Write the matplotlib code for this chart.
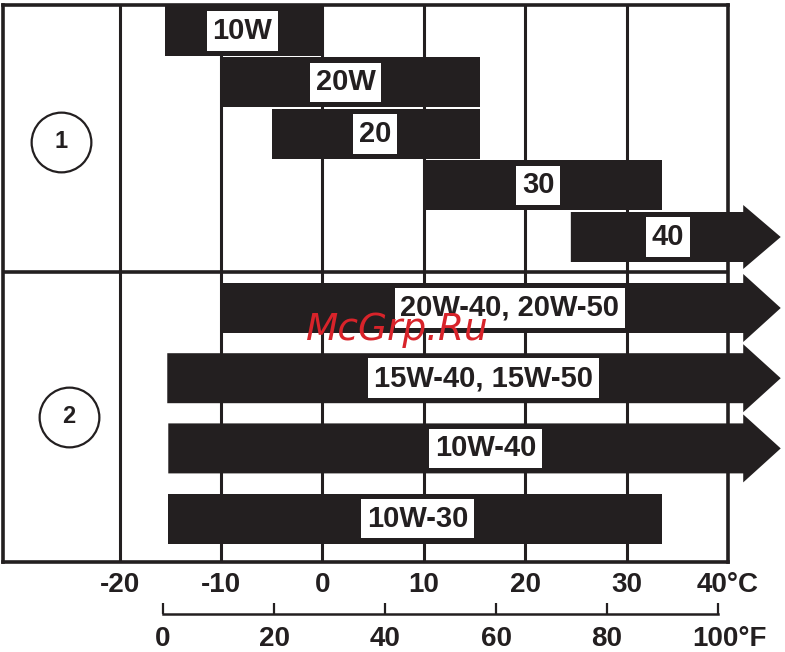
import matplotlib.pyplot as plt
import matplotlib.transforms as mtransforms
import numpy as np

# upper block: single grades, temperature range in deg C (None = open ended)
grades = ['10W', '20W', '20', '30', '40']
grade_lo = [-15.5, -10, -5, 10, 24.5]
grade_hi = [0, 15.5, 15.5, 33.5, None]

# lower block: multigrades
multi = ['20W-40, 20W-50', '15W-40, 15W-50', '10W-40', '10W-30']
multi_lo = [-10, -15.3, -15.2, -15.2]
multi_hi = [None, None, None, 33.5]

c_ticks = [-20, -10, 0, 10, 20, 30, 40]
c_labels = ['-20', '-10', '0', '10', '20', '30', '40°C']
f_ticks = [0, 20, 40, 60, 80, 100]
f_labels = ['0', '20', '40', '60', '80', '100°F']

BLACK = '#231f20'
W, H = 785, 652
ARROW_BASE = 41.5
ARROW_TIP = 45.2
bold = ['Liberation Sans', 'DejaVu Sans']

# where the white label boxes sit along each bar (deg C)
label_x1 = [-7.9, 2.3, 5.2, 21.3, 34.1]
label_x2 = [18.5, 15.9, 16.1, 9.4]


def bar(ax, lo, hi, yc, h=25, hh=33):
    if hi is None:
        xs = [lo, ARROW_BASE, ARROW_BASE, ARROW_TIP, ARROW_BASE, ARROW_BASE, lo]
        ys = [yc - h, yc - h, yc - hh, yc, yc + hh, yc + h, yc + h]
    else:
        xs = [lo, hi, hi, lo]
        ys = [yc - h, yc - h, yc + h, yc + h]
    ax.fill(xs, ys, color=BLACK, lw=0, zorder=2, clip_on=False)


def label(ax, x, yc, s):
    ax.text(x, yc, s, ha='center', va='center', fontsize=21, fontweight='bold',
            family=bold, color=BLACK, zorder=4,
            bbox=dict(boxstyle='square,pad=0.2', fc='white', ec='none'))


fig = plt.figure(figsize=(W / 100, H / 100), dpi=100)
ax = fig.add_axes([3 / W, (H - 562) / H, 725 / W, 557 / H])
ax.set_xlim(-31.5, 40)
ax.set_ylim(562, 5)
ax.set_yticks([])
for s in ax.spines.values():
    s.set_linewidth(2.6)
    s.set_color(BLACK)

for c in c_ticks[:-1]:
    ax.axvline(c, color=BLACK, lw=2.2, zorder=1)
ax.axhline(272, color=BLACK, lw=2.6, zorder=1)

for i in range(len(grades)):
    yc = 31 + 51.5 * i
    bar(ax, grade_lo[i], grade_hi[i], yc, hh=32)
    label(ax, label_x1[i], yc, grades[i])

for i in range(len(multi)):
    yc = 308 + 70.2 * i
    bar(ax, multi_lo[i], multi_hi[i], yc, hh=34)
    label(ax, label_x2[i], yc, multi[i])

# circled section numbers
for num, x, y in [('1', -25.8, 142), ('2', -25.0, 417)]:
    ax.plot(x, y, 'o', ms=43, mfc='white', mec=BLACK, mew=1.6, zorder=3)
    ax.text(x, y, num, ha='center', va='center', fontsize=17,
            fontweight='bold', family=bold, color=BLACK, zorder=4)

# Celsius scale
ax.set_xticks(c_ticks)
ax.set_xticklabels(c_labels)
ax.tick_params(axis='x', length=0, pad=7, labelsize=20, labelcolor=BLACK)
for t in ax.get_xticklabels():
    t.set_fontweight('bold')
    t.set_family(bold)

# Fahrenheit scale
fax = fig.add_axes([163 / W, (H - 614) / H, 555 / W, 0.001])
fax.set_xlim(0, 100)
fax.set_yticks([])
for k in ['top', 'left', 'right']:
    fax.spines[k].set_visible(False)
fax.spines['bottom'].set_linewidth(1.8)
fax.spines['bottom'].set_color(BLACK)
fax.set_xticks(f_ticks)
fax.set_xticklabels(f_labels)
fax.tick_params(axis='x', direction='in', length=8, width=1.6, color=BLACK,
                pad=9, labelsize=20, labelcolor=BLACK)
for t in fax.get_xticklabels():
    t.set_fontweight('bold')
    t.set_family(bold)
# unit suffix hangs to the right of the 100 tick
last = fax.get_xticklabels()[-1]
last.set_transform(last.get_transform() +
                   mtransforms.ScaledTranslation(0.11, 0, fig.dpi_scale_trans))

# watermark
fig.text(397 / W, 1 - 330 / H, 'McGrp.Ru', ha='center', va='center',
         fontsize=27, style='italic', color='#d8232a', zorder=10)

fig.savefig('out.png', dpi=100)
